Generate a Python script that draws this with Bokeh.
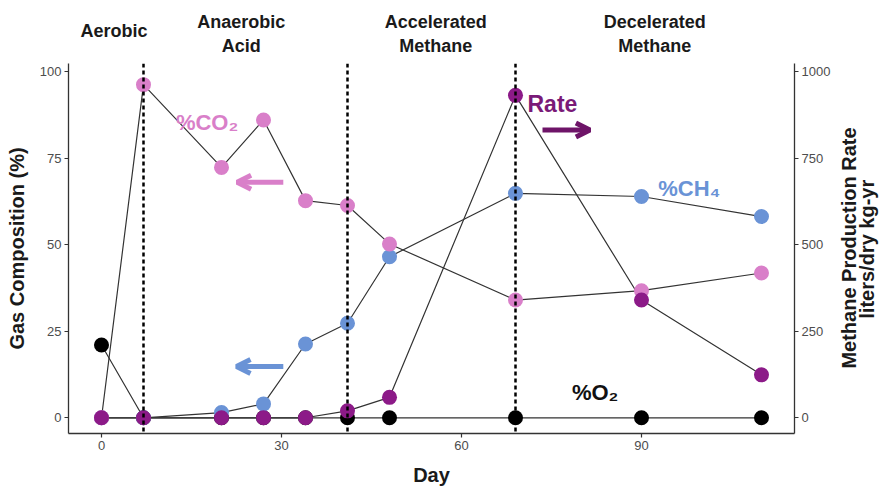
from math import pi
from bokeh.plotting import figure
from bokeh.models import Range1d, LinearAxis, FixedTicker, Span, Label, Arrow, OpenHead, ColumnDataSource
from bokeh.embed import file_html
from bokeh.resources import INLINE

# ---- data ----
day = [0, 7, 20, 27, 34, 41, 48, 69, 90, 110]
o2 = [21, 0, 0, 0, 0, 0, 0, 0, 0, 0]
ch4 = [0, 0, 1.5, 4.0, 21.3, 27.3, 46.5, 64.8, 63.9, 58.1]
co2 = [0, 96.2, 72.3, 86.0, 62.7, 61.3, 50.2, 34.0, 36.7, 41.8]
rate = [0, 0, 0, 0, 0, 20, 59, 931, 340, 124]
phase_bounds = [7, 41, 69]
phase_single = ["Aerobic"]
phase_double = ["Anaerobic\nAcid", "Accelerated\nMethane", "Decelerated\nMethane"]
left_ticks = [0, 25, 50, 75, 100]
right_ticks = [0, 250, 500, 750, 1000]
x_ticks = [0, 30, 60, 90]

# ---- styles / positions ----
PINK = "#D97FC9"
BLUE = "#6A93D6"
PURPLE = "#8C1A88"
ARROW_PURPLE = "#6E1468"
FONT = "Liberation Sans"
single_x = [2.1]
double_x = [23.3, 55.7, 92.2]
title1_start = 14.2
title2_start = 28.6

src = ColumnDataSource(dict(day=day, o2=o2, ch4=ch4, co2=co2, rate=rate))

p = figure(width=893, height=490,
           x_range=Range1d(-5.5, 115.5), y_range=Range1d(-4.54, 102.3),
           output_backend="svg", toolbar_location=None,
           min_border_left=68, min_border_right=99, min_border_top=63, min_border_bottom=57)
xax = p.below[0]
yax = p.left[0]
p.extra_y_ranges = {"rate": Range1d(-45.4, 1023)}
rate_axis = LinearAxis(y_range_name="rate")
p.add_layout(rate_axis, "right")
title_axis1 = LinearAxis()
p.add_layout(title_axis1, "right")
title_axis2 = LinearAxis()
p.add_layout(title_axis2, "right")
aerobic_axis = LinearAxis()
p.add_layout(aerobic_axis, "above")
phase_axis = LinearAxis()
p.add_layout(phase_axis, "above")

p.outline_line_color = None
p.xgrid.visible = False
p.ygrid.visible = False
p.background_fill_color = "white"
p.border_fill_color = "white"

for ax in [xax, yax, rate_axis]:
    ax.axis_line_color = "#333333"
    ax.axis_line_width = 1.3
    ax.major_tick_line_color = "#333333"
    ax.major_tick_line_width = 1.2
    ax.major_tick_out = 4
    ax.major_tick_in = 0
    ax.minor_tick_line_color = None
    ax.major_label_text_font = FONT
    ax.major_label_text_font_size = "13px"
    ax.major_label_text_color = "#4d4d4d"
    ax.major_label_standoff = 3
    ax.axis_label_text_font = FONT
    ax.axis_label_text_font_style = "bold"
    ax.axis_label_text_font_size = "20px"
    ax.axis_label_text_color = "#1a1a1a"

xax.ticker = FixedTicker(ticks=x_ticks)
xax.axis_label = "Day"
xax.axis_label_standoff = 11
xax.major_label_standoff = 3
yax.ticker = FixedTicker(ticks=left_ticks)
yax.axis_label = "Gas Composition (%)"
yax.axis_label_standoff = 9
rate_axis.ticker = FixedTicker(ticks=right_ticks)

# text-only axes (phase names above, right title)
for ax in [title_axis1, title_axis2, aerobic_axis, phase_axis]:
    ax.axis_line_color = None
    ax.major_tick_line_color = None
    ax.minor_tick_line_color = None
    ax.major_tick_out = 0
    ax.major_tick_in = 0
    ax.major_label_text_font = FONT
    ax.major_label_text_font_style = "bold"
    ax.major_label_text_color = "#1a1a1a"

aerobic_axis.ticker = FixedTicker(ticks=single_x)
aerobic_axis.major_label_overrides = {x: n for x, n in zip(single_x, phase_single)}
aerobic_axis.major_label_text_font_size = "18px"
aerobic_axis.major_label_standoff = 23

phase_axis.ticker = FixedTicker(ticks=double_x)
phase_axis.major_label_overrides = {x: n for x, n in zip(double_x, phase_double)}
phase_axis.major_label_text_font_size = "18px"
phase_axis.major_label_standoff = -38

title_axis1.ticker = FixedTicker(ticks=[title1_start])
title_axis1.major_label_overrides = {title1_start: "Methane Production Rate"}
title_axis1.major_label_text_font_size = "20px"
title_axis1.major_label_orientation = pi / 2
title_axis1.major_label_standoff = 16

title_axis2.ticker = FixedTicker(ticks=[title2_start])
title_axis2.major_label_overrides = {title2_start: "liters/dry kg-yr"}
title_axis2.major_label_text_font_size = "20px"
title_axis2.major_label_orientation = pi / 2
title_axis2.major_label_standoff = -7

# lines
p.line("day", "o2", source=src, line_color="#333333", line_width=1.2)
p.line("day", "ch4", source=src, line_color="#333333", line_width=1.2)
p.line("day", "co2", source=src, line_color="#333333", line_width=1.2)
p.line("day", "rate", source=src, y_range_name="rate", line_color="#333333", line_width=1.2)
# points
p.scatter("day", "o2", source=src, size=15, fill_color="black", line_color=None)
p.scatter("day", "ch4", source=src, size=15, fill_color=BLUE, line_color=None)
p.scatter("day", "co2", source=src, size=15, fill_color=PINK, line_color=None)
p.scatter("day", "rate", source=src, y_range_name="rate", size=15, fill_color=PURPLE, line_color=None)

# phase boundaries
for d in phase_bounds:
    p.add_layout(Span(location=d, dimension="height", line_color="black",
                      line_width=2.5, line_dash="4 3"))

# series annotations
p.add_layout(Label(x=12.4, y=85.3, text="%CO₂", text_baseline="alphabetic", text_font=FONT,
                   text_font_style="bold", text_font_size="22px", text_color=PINK))
p.add_layout(Label(x=71.0, y=90.7, text="Rate", text_baseline="alphabetic", text_font=FONT,
                   text_font_style="bold", text_font_size="23px", text_color="#7A1A78"))
p.add_layout(Label(x=92.8, y=66.1, text="%CH₄", text_baseline="alphabetic", text_font=FONT,
                   text_font_style="bold", text_font_size="22px", text_color=BLUE))
p.add_layout(Label(x=78.4, y=7.3, text="%O₂", text_baseline="alphabetic", text_font=FONT,
                   text_font_style="bold", text_font_size="22px", text_color="#111111"))

# arrows
p.add_layout(Arrow(end=OpenHead(size=14, line_color=PINK, line_width=5),
                   x_start=30.3, y_start=68.0, x_end=22.6, y_end=68.0,
                   line_color=PINK, line_width=5))
p.add_layout(Arrow(end=OpenHead(size=14, line_color=BLUE, line_width=5),
                   x_start=30.3, y_start=14.8, x_end=22.5, y_end=14.8,
                   line_color=BLUE, line_width=5))
p.add_layout(Arrow(end=OpenHead(size=14, line_color=ARROW_PURPLE, line_width=5),
                   x_start=73.5, y_start=83.1, x_end=81.4, y_end=83.1,
                   line_color=ARROW_PURPLE, line_width=5))

open("out.html", "w").write(file_html(p, INLINE))
